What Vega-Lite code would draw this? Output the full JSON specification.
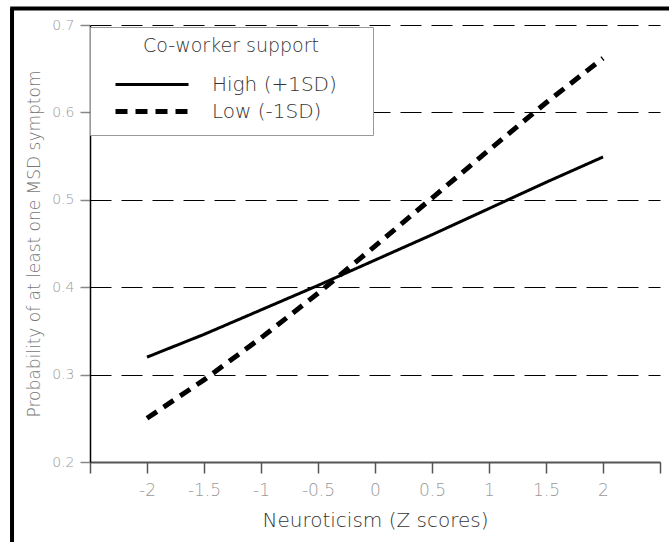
{
  "$schema": "https://vega.github.io/schema/vega-lite/v6.json",
  "width": 570,
  "height": 437,
  "autosize": {"type": "none"},
  "padding": {"left": 90, "top": 25, "right": 9, "bottom": 80},
  "background": "white",
  "config": {"view": {"stroke": null}, "font": "DejaVu Sans"},
  "layer": [
    {
      "data": {
        "values": [
          {"z": -2, "p": 0.320, "support": "High (+1SD)"},
          {"z": -1.5, "p": 0.346, "support": "High (+1SD)"},
          {"z": -1, "p": 0.374, "support": "High (+1SD)"},
          {"z": -0.5, "p": 0.402, "support": "High (+1SD)"},
          {"z": 0, "p": 0.431, "support": "High (+1SD)"},
          {"z": 0.5, "p": 0.460, "support": "High (+1SD)"},
          {"z": 1, "p": 0.490, "support": "High (+1SD)"},
          {"z": 1.5, "p": 0.520, "support": "High (+1SD)"},
          {"z": 2, "p": 0.549, "support": "High (+1SD)"},
          {"z": -2, "p": 0.250, "support": "Low (-1SD)"},
          {"z": -1.5, "p": 0.294, "support": "Low (-1SD)"},
          {"z": -1, "p": 0.342, "support": "Low (-1SD)"},
          {"z": -0.5, "p": 0.393, "support": "Low (-1SD)"},
          {"z": 0, "p": 0.447, "support": "Low (-1SD)"},
          {"z": 0.5, "p": 0.502, "support": "Low (-1SD)"},
          {"z": 1, "p": 0.557, "support": "Low (-1SD)"},
          {"z": 1.5, "p": 0.611, "support": "Low (-1SD)"},
          {"z": 2, "p": 0.662, "support": "Low (-1SD)"}
        ]
      },
      "mark": {"type": "line", "color": "black", "strokeCap": "butt"},
      "encoding": {
        "x": {
          "field": "z",
          "type": "quantitative",
          "scale": {"domain": [-2.5, 2.5], "nice": false, "zero": false},
          "axis": {
            "values": [-2.5, -2, -1.5, -1, -0.5, 0, 0.5, 1, 1.5, 2, 2.5],
            "labelExpr": "abs(datum.value) > 2.2 ? '' : '' + datum.value",
            "title": "Neuroticism (Z scores)",
            "grid": false,
            "tickSize": 11,
            "tickColor": "#555",
            "tickWidth": 1.5,
            "domainColor": "#555",
            "domainWidth": 2,
            "labelFont": "DejaVu Sans",
            "labelFontSize": 17,
            "labelFontWeight": 200,
            "labelColor": "#999",
            "labelPadding": 9,
            "labelFlush": false,
            "labelOverlap": false,
            "titleFont": "DejaVu Sans",
            "titleFontSize": 20,
            "titleFontWeight": 200,
            "titleColor": "#333",
            "titlePadding": 12
          }
        },
        "y": {
          "field": "p",
          "type": "quantitative",
          "scale": {"domain": [0.2, 0.7], "nice": false, "zero": false},
          "axis": {
            "values": [0.2, 0.3, 0.4, 0.5, 0.6, 0.7],
            "format": ".1f",
            "title": "Probability of at least one MSD symptom",
            "grid": true,
            "gridColor": "black",
            "gridDash": [21, 10],
            "gridWidth": 1.2,
            "tickSize": 10,
            "tickColor": "#888",
            "tickWidth": 1.5,
            "domainColor": "black",
            "domainWidth": 1.5,
            "labelFont": "DejaVu Sans",
            "labelFontSize": 14,
            "labelFontWeight": 200,
            "labelColor": "#999",
            "labelPadding": 6,
            "labelFlush": false,
            "labelOverlap": false,
            "titleFont": "DejaVu Sans",
            "titleFontSize": 17,
            "titleFontWeight": 200,
            "titleColor": "#777",
            "titlePadding": 8
          }
        },
        "strokeDash": {
          "field": "support",
          "type": "ordinal",
          "scale": {"domain": ["High (+1SD)", "Low (-1SD)"], "range": [[1, 0], [12, 8]]},
          "legend": {
            "title": "Co-worker support",
            "orient": "none",
            "legendX": 0,
            "legendY": 2,
            "direction": "vertical",
            "symbolType": "stroke",
            "symbolSize": 5329,
            "symbolOffset": 13,
            "symbolStrokeColor": "black",
            "labelOffset": 21,
            "labelExpr": "datum.label + '\u00a0\u00a0\u00a0\u00a0\u200b'",
            "clipHeight": 27,
            "rowPadding": 0,
            "padding": 10,
            "fillColor": "white",
            "strokeColor": "#999",
            "titleFont": "DejaVu Sans",
            "titleFontSize": 19,
            "titleFontWeight": 200,
            "titleColor": "#333",
            "titleAnchor": "middle",
            "titleAlign": "center",
            "titlePadding": 15,
            "labelFont": "DejaVu Sans",
            "labelFontSize": 20,
            "labelFontWeight": 200,
            "labelColor": "#333"
          }
        },
        "strokeWidth": {
          "field": "support",
          "type": "ordinal",
          "scale": {"domain": ["High (+1SD)", "Low (-1SD)"], "range": [3, 5]},
          "legend": null
        }
      }
    },
    {
      "data": {"values": [{}]},
      "mark": {"type": "rule", "color": "black", "strokeWidth": 4, "clip": false},
      "encoding": {
        "x": {"datum": -3.184},
        "y": {"datum": 0.7189},
        "y2": {"datum": 0.108}
      }
    },
    {
      "data": {"values": [{}]},
      "mark": {"type": "rule", "color": "black", "strokeWidth": 4, "clip": false},
      "encoding": {
        "x": {"datum": -3.2},
        "x2": {"datum": 2.6},
        "y": {"datum": 0.7189}
      }
    }
  ]
}
